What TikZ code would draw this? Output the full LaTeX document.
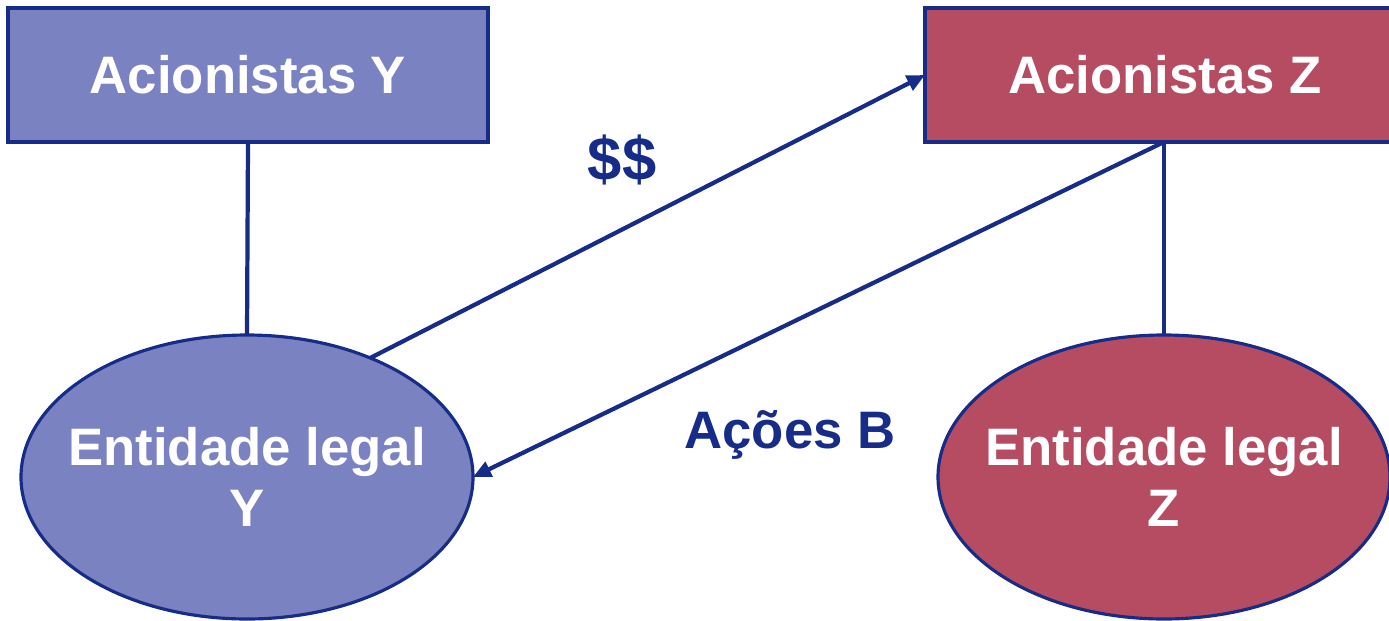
\documentclass[tikz,border=0pt]{standalone}
\usepackage{fontspec}
\setmainfont{Liberation Sans}
\usetikzlibrary{shapes.geometric}
\usetikzlibrary{arrows.meta}
\definecolor{navy}{RGB}{22,44,136}
\definecolor{lilac}{RGB}{122,130,194}
\definecolor{rose}{RGB}{181,76,98}
\tikzset{
  holder/.style={draw=navy,line width=1pt,inner sep=0pt,outer sep=0pt,
    minimum width=4.8cm,minimum height=1.34cm,text=white,
    font=\fontsize{15}{18}\selectfont\bfseries},
  entity/.style={ellipse,draw=navy,line width=0.9pt,inner ysep=0pt,
    inner xsep=-0.3cm,outer sep=0pt,minimum width=4.52cm,
    minimum height=2.84cm,align=center,text=white,
    font=\fontsize{15}{17.5}\selectfont\bfseries},
  flow/.style={draw=navy,line width=1.2pt},
  tag/.style={text=navy,font=\fontsize{15}{18}\selectfont\bfseries}
}
\begin{document}
\begin{tikzpicture}
  \useasboundingbox
    (0,0)
    rectangle
    (13.89,6.2);
  \node[holder,fill=lilac] (holdY)
    at (2.48,5.45) {Acionistas Y};
  \node[holder,fill=rose] (holdZ)
    at (11.65,5.45) {Acionistas Z};
  \node[entity,fill=lilac] (entY)
    at (2.47,1.43) {Entidade legal\\Y};
  \node[entity,fill=rose] (entZ)
    at (11.64,1.43) {Entidade legal\\Z};
  \coordinate (footZ)
    at (holdZ.south -| entZ.north);
  \draw[flow]
    (holdY.south)
    --
    (entY.north);
  \draw[flow]
    (footZ)
    --
    (entZ.north);
  \draw[flow,-{Triangle[length=1.8mm,width=1.6mm]}]
    (entY.44)
    --
    (holdZ.west);
  \draw[flow,-{Triangle[length=1.8mm,width=1.6mm]}]
    (footZ)
    --
    (entY.east);
  \node[tag,font=\fontsize{17.5}{20}\selectfont\bfseries] (cash)
    at (6.22,4.6) {\$\$};
  \node[tag] (shares)
    at (7.9,1.85) {Ações B};
\end{tikzpicture}
\end{document}
